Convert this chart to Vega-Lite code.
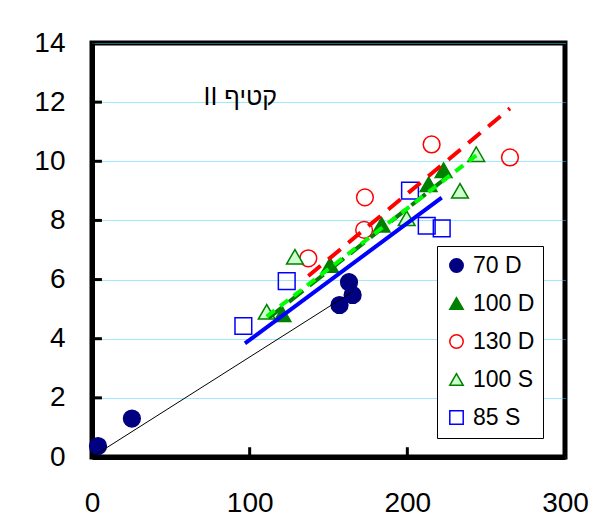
{
  "$schema": "https://vega.github.io/schema/vega-lite/v6.json",
  "width": 473,
  "height": 414,
  "autosize": {"type": "none"},
  "padding": {"left": 92, "top": 43, "right": 40, "bottom": 72},
  "background": "white",
  "config": {
    "font": "Liberation Sans",
    "view": {"stroke": "black", "strokeWidth": 5}
  },
  "resolve": {"axis": {"x": "independent", "y": "independent"}},
  "layer": [
    {
      "data": {"values": [
        {"series": "70 D", "x": 3.8, "y": 0.37},
        {"series": "70 D", "x": 25.3, "y": 1.3},
        {"series": "70 D", "x": 157, "y": 5.14},
        {"series": "70 D", "x": 163, "y": 5.91},
        {"series": "70 D", "x": 165.3, "y": 5.48},
        {"series": "100 D", "x": 120.8, "y": 4.83},
        {"series": "100 D", "x": 151, "y": 6.49},
        {"series": "100 D", "x": 183.7, "y": 7.85},
        {"series": "100 D", "x": 213.5, "y": 9.22},
        {"series": "100 D", "x": 223, "y": 9.7},
        {"series": "130 D", "x": 137.2, "y": 6.72},
        {"series": "130 D", "x": 172.6, "y": 7.68},
        {"series": "130 D", "x": 173.1, "y": 8.78},
        {"series": "130 D", "x": 215.4, "y": 10.57},
        {"series": "130 D", "x": 265.1, "y": 10.13},
        {"series": "100 S", "x": 110.8, "y": 4.91},
        {"series": "100 S", "x": 128.7, "y": 6.77},
        {"series": "100 S", "x": 199.6, "y": 8.07},
        {"series": "100 S", "x": 233.4, "y": 9.0},
        {"series": "100 S", "x": 243.7, "y": 10.24},
        {"series": "85 S", "x": 96, "y": 4.43},
        {"series": "85 S", "x": 123.5, "y": 5.95},
        {"series": "85 S", "x": 201.7, "y": 9.01},
        {"series": "85 S", "x": 212.3, "y": 7.82},
        {"series": "85 S", "x": 221.8, "y": 7.73}
      ]},
      "mark": {"type": "point", "opacity": 1, "strokeWidth": 1.5, "size": 280},
      "encoding": {
        "x": {"field": "x", "type": "quantitative", "scale": {"domain": [0, 300], "nice": false},
              "axis": {"orient": "bottom", "values": [0, 100, 200, 300], "grid": false, "labelPadding": 32, "labelFlush": false,
                       "labelFont": "Liberation Sans", "labelFontSize": 28, "labelColor": "black",
                       "domain": true, "domainColor": "black", "domainWidth": 5,
                       "ticks": false, "title": null}},
        "y": {"field": "y", "type": "quantitative", "scale": {"domain": [0, 14], "nice": false},
              "axis": {"orient": "left", "values": [0, 2, 4, 6, 8, 10, 12, 14], "grid": true, "gridColor": "#3FCFF5", "gridDash": [1, 1], "gridWidth": 1,
                       "labelPadding": 27, "labelFlush": false,
                       "labelFont": "Liberation Sans", "labelFontSize": 28, "labelColor": "black",
                       "domain": true, "domainColor": "black", "domainWidth": 5,
                       "ticks": false, "title": null}},
        "shape": {"field": "series", "type": "nominal",
                  "scale": {"domain": ["70 D", "100 D", "130 D", "100 S", "85 S"], "range": ["circle", "triangle-up", "circle", "triangle-up", "square"]},
                  "legend": {"title": null, "orient": "none", "legendX": 345, "legendY": 203, "padding": 8, "fillColor": "white", "strokeColor": "black", "labelFontSize": 23, "labelFont": "Liberation Sans", "labelColor": "black", "symbolSize": 180, "symbolStrokeWidth": 1.5, "rowPadding": 14, "labelOffset": 5, "symbolOpacity": 1}},
        "fill": {"field": "series", "type": "nominal",
                 "scale": {"domain": ["70 D", "100 D", "130 D", "100 S", "85 S"], "range": ["#000080", "#008000", "transparent", "#CCFFCC", "transparent"]},
                 "legend": {"title": null, "orient": "none", "legendX": 345, "legendY": 203, "padding": 8, "fillColor": "white", "strokeColor": "black", "labelFontSize": 23, "labelFont": "Liberation Sans", "labelColor": "black", "symbolSize": 180, "symbolStrokeWidth": 1.5, "rowPadding": 14, "labelOffset": 5, "symbolOpacity": 1}},
        "stroke": {"field": "series", "type": "nominal",
                   "scale": {"domain": ["70 D", "100 D", "130 D", "100 S", "85 S"], "range": ["#000080", "#008000", "#FF0000", "#008000", "#0000FF"]},
                   "legend": {"title": null, "orient": "none", "legendX": 345, "legendY": 203, "padding": 8, "fillColor": "white", "strokeColor": "black", "labelFontSize": 23, "labelFont": "Liberation Sans", "labelColor": "black", "symbolSize": 180, "symbolStrokeWidth": 1.5, "rowPadding": 14, "labelOffset": 5, "symbolOpacity": 1}}
      }
    },
    {
      "data": {"values": [{"x": 0, "y": 0}, {"x": 165.3, "y": 5.59}]},
      "mark": {"type": "line", "color": "black", "strokeWidth": 1},
      "encoding": {"x": {"field": "x", "type": "quantitative", "axis": null}, "y": {"field": "y", "type": "quantitative", "axis": null}}
    },
    {
      "data": {"values": [{"t": 100}, {"t": 200}]},
      "mark": {"type": "rule", "color": "black", "strokeWidth": 3},
      "encoding": {
        "x": {"field": "t", "type": "quantitative", "axis": null},
        "y": {"datum": 0, "type": "quantitative", "axis": null},
        "y2": {"datum": 0.33}
      }
    },
    {
      "data": {"values": [{"t": 2}, {"t": 4}, {"t": 6}, {"t": 8}, {"t": 10}, {"t": 12}]},
      "mark": {"type": "rule", "color": "black", "strokeWidth": 3},
      "encoding": {
        "y": {"field": "t", "type": "quantitative", "axis": null},
        "x": {"datum": 0, "type": "quantitative", "axis": null},
        "x2": {"datum": 6.3}
      }
    },
    {
      "data": {"values": [{"x": 97, "y": 3.84}, {"x": 221.8, "y": 8.77}]},
      "mark": {"type": "line", "color": "#0000FF", "strokeWidth": 4},
      "encoding": {"x": {"field": "x", "type": "quantitative", "axis": null}, "y": {"field": "y", "type": "quantitative", "axis": null}}
    },
    {
      "data": {"values": [{"x": 137.2, "y": 6.12}, {"x": 265.1, "y": 11.79}]},
      "mark": {"type": "line", "color": "#FF0000", "strokeWidth": 4, "strokeDash": [16, 10]},
      "encoding": {"x": {"field": "x", "type": "quantitative", "axis": null}, "y": {"field": "y", "type": "quantitative", "axis": null}}
    },
    {
      "data": {"values": [{"x": 112, "y": 4.7}, {"x": 226, "y": 9.5}]},
      "mark": {"type": "line", "color": "#008000", "strokeWidth": 4, "strokeDash": [18, 8]},
      "encoding": {"x": {"field": "x", "type": "quantitative", "axis": null}, "y": {"field": "y", "type": "quantitative", "axis": null}}
    },
    {
      "data": {"values": [{"x": 110.8, "y": 4.75}, {"x": 243.7, "y": 10.2}]},
      "mark": {"type": "line", "color": "#00FF00", "strokeWidth": 4, "strokeDash": [10, 7]},
      "encoding": {"x": {"field": "x", "type": "quantitative", "axis": null}, "y": {"field": "y", "type": "quantitative", "axis": null}}
    },
    {
      "data": {"values": [{"label": "II קטיף", "x": 94, "y": 12.17}]},
      "mark": {"type": "text", "fontSize": 25, "font": "Liberation Sans", "color": "black", "align": "center", "baseline": "middle"},
      "encoding": {"x": {"field": "x", "type": "quantitative", "axis": null}, "y": {"field": "y", "type": "quantitative", "axis": null}, "text": {"field": "label"}}
    }
  ]
}
